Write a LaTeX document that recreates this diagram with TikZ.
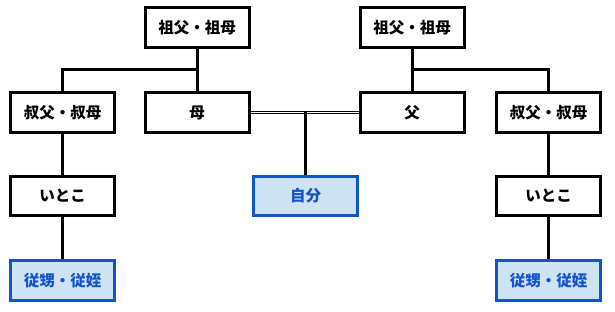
\documentclass[tikz,border=0pt]{standalone}
\usepackage{fontspec}
\newfontfamily\jp{Noto Sans CJK JP}
\definecolor{selfblue}{HTML}{1155CC}
\definecolor{selffill}{HTML}{CFE2F3}
\tikzset{
  person/.style={draw=black, line width=3pt, fill=white, minimum width=104pt, minimum height=39.5pt, inner sep=0pt, font=\jp\bfseries\fontsize{15.5}{17}\selectfont},
  selfbox/.style={person, draw=selfblue, fill=selffill, text=selfblue},
  link/.style={draw=black, line width=3pt},
  marriage/.style={draw=black, line width=1pt, double=white, double distance=1.8pt}
}
\begin{document}
\begin{tikzpicture}[x=1pt,y=-1pt]
\useasboundingbox (0,0) rectangle (615,312);
\node[person] (gpL) at (197,27.5) {祖父・祖母};
\node[person] (gpR) at (412,27.5) {祖父・祖母};
\node[person] (uncleL) at (62.5,112.5) {叔父・叔母};
\node[person] (mother) at (197,112.5) {母};
\node[person] (father) at (412,112.5) {父};
\node[person] (uncleR) at (548.5,112.5) {叔父・叔母};
\node[selfbox] (self) at (305.5,196) {自分};
\node[person] (cousinL) at (62.5,196) {いとこ};
\node[person] (cousinR) at (548.5,196) {いとこ};
\node[selfbox] (nieceL) at (62.5,280.5) {従甥・従姪};
\node[selfbox] (nieceR) at (548.5,280.5) {従甥・従姪};
\coordinate (jL) at (197,70);
\coordinate (jR) at (412,70);
\coordinate (m) at (305.5,112.5);
\draw[link] (gpL.south) -- (jL);
\draw[link] (uncleL.north) |- (jL) -- (mother.north);
\draw[link] (gpR.south) -- (jR);
\draw[link] (father.north) |- (jR) -| (uncleR.north);
\draw[marriage] (mother.east) -- (father.west);
\draw[link] (m) -- (self.north);
\draw[link] (uncleL.south) -- (cousinL.north);
\draw[link] (cousinL.south) -- (nieceL.north);
\draw[link] (uncleR.south) -- (cousinR.north);
\draw[link] (cousinR.south) -- (nieceR.north);
\end{tikzpicture}
\end{document}
